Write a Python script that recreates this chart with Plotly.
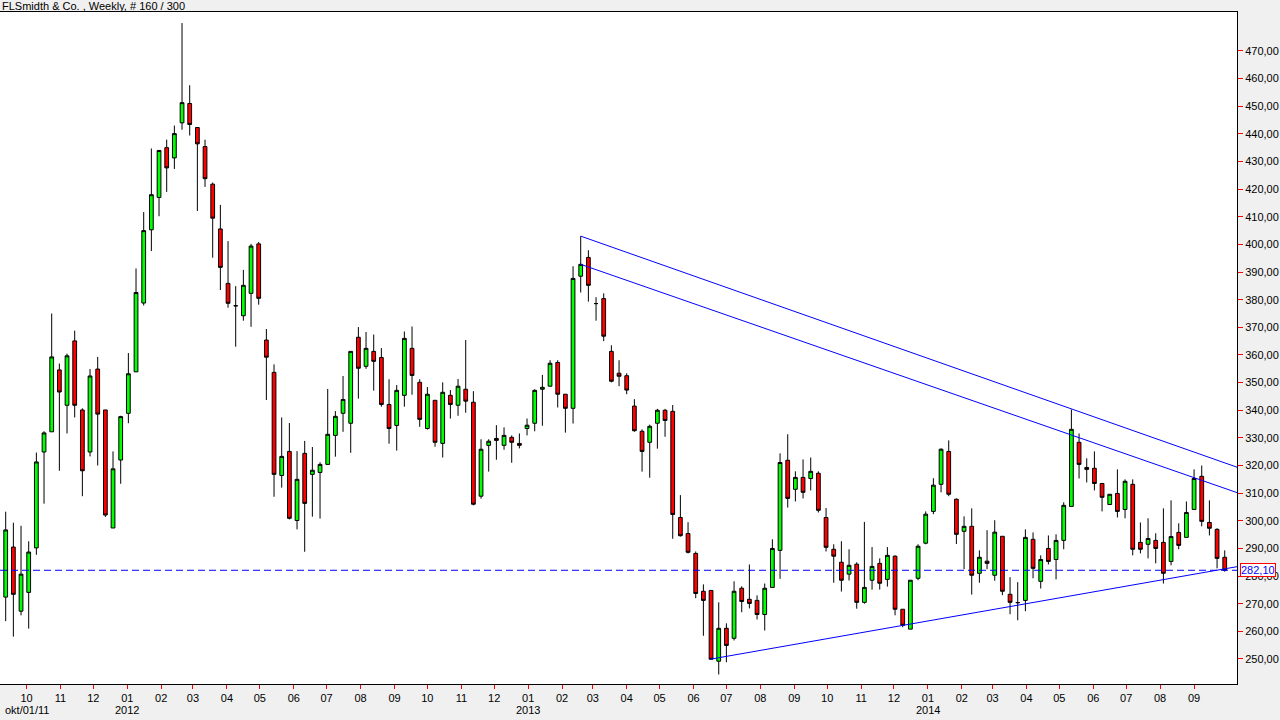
import pandas as pd
import plotly.graph_objects as go

# ---------------- data ----------------
first_week = "2011-09-12"
n_weeks = 160

open_ = [272.4, 290.5, 267.3, 274.1, 290.2, 324.9, 332.2, 354.6, 341.8, 365.1,
         340.1, 324.9, 354.9, 340.1, 297.4, 322.0, 338.9, 353.9, 378.8, 405.3,
         417.0, 435.0, 431.3, 444.0, 451.0, 442.3, 435.4, 421.8, 405.6, 385.9,
         377.8, 374.2, 382.3, 400.2, 365.4, 353.7, 316.4, 325.1, 300.1, 324.4,
         316.8, 317.5, 320.4, 330.9, 338.9, 335.3, 366.4, 355.9, 361.3, 359.1,
         342.1, 334.5, 345.4, 362.4, 350.1, 333.4, 343.6, 328.0, 345.4, 341.8,
         347.6, 342.9, 308.9, 327.3, 329.8, 327.3, 330.2, 328.0, 333.4, 335.3,
         347.6, 348.7, 357.3, 345.8, 340.7, 388.5, 395.3, 378.6, 380.4, 361.3,
         353.4, 352.5, 341.5, 332.4, 328.4, 335.3, 340.0, 339.6, 301.2, 295.4,
         288.2, 274.5, 274.8, 249.2, 261.1, 257.5, 275.6, 271.6, 271.2, 266.1,
         275.9, 289.3, 321.9, 311.4, 315.7, 315.3, 317.2, 301.2, 289.7, 285.0,
         280.7, 284.3, 270.5, 278.5, 284.6, 278.8, 287.2, 268.0, 260.8, 279.2,
         291.9, 303.4, 313.2, 325.1, 307.8, 296.2, 298.0, 281.0, 285.4, 280.3,
         294.4, 273.4, 270.4, 271.2, 293.3, 278.1, 290.0, 286.0, 292.9, 305.2,
         328.4, 319.3, 319.0, 313.5, 305.9, 309.9, 304.1, 313.2, 292.2, 291.5,
         292.9, 292.2, 285.3, 295.8, 294.0, 304.1, 316.1, 299.4, 296.9, 286.8]

high = [303.3, 299.3, 298.2, 292.6, 324.7, 332.4, 375.0, 356.9, 360.5, 368.8,
        340.7, 354.9, 359.3, 340.1, 325.1, 338.0, 360.7, 391.3, 411.7, 434.7,
        434.0, 437.9, 443.0, 480.1, 457.6, 442.3, 437.9, 422.4, 414.3, 401.2,
        384.9, 390.8, 400.2, 400.9, 369.4, 356.6, 337.4, 335.4, 325.2, 328.9,
        326.7, 321.2, 347.7, 339.7, 352.4, 361.3, 370.1, 368.3, 367.4, 362.5,
        351.2, 349.1, 368.5, 370.3, 351.2, 348.4, 343.6, 350.1, 347.3, 351.3,
        365.4, 346.9, 329.5, 329.5, 334.6, 333.8, 330.9, 331.6, 337.0, 347.6,
        352.8, 358.1, 358.1, 345.8, 392.1, 403.0, 397.9, 380.9, 382.3, 363.5,
        358.1, 353.4, 344.0, 333.1, 334.8, 340.5, 340.5, 341.9, 309.3, 299.5,
        288.9, 277.0, 274.8, 270.5, 262.9, 278.1, 276.3, 284.2, 273.0, 277.3,
        293.3, 324.4, 331.3, 317.9, 322.2, 322.9, 317.9, 304.6, 291.5, 292.6,
        289.7, 285.0, 299.6, 290.5, 286.4, 290.5, 287.5, 268.0, 278.5, 291.5,
        303.4, 315.4, 326.2, 329.1, 308.1, 301.6, 304.5, 289.3, 296.6, 300.2,
        294.4, 279.6, 277.8, 296.9, 295.8, 287.5, 294.7, 295.1, 306.7, 340.3,
        331.6, 322.6, 325.1, 313.5, 309.6, 318.6, 315.0, 315.0, 299.4, 300.9,
        295.5, 304.5, 307.4, 299.1, 307.0, 318.6, 320.0, 307.4, 297.3, 289.3]

low = [263.7, 258.1, 265.8, 261.0, 287.7, 306.2, 332.2, 318.1, 331.6, 337.4,
       308.9, 323.3, 320.0, 301.4, 297.4, 313.4, 335.3, 353.9, 377.9, 397.6,
       410.2, 419.0, 427.3, 441.5, 439.4, 412.1, 420.8, 395.2, 383.5, 377.1,
       363.0, 372.4, 370.2, 378.2, 343.7, 308.7, 312.0, 300.5, 296.9, 288.8,
       301.5, 300.8, 320.4, 323.2, 332.2, 324.6, 344.2, 355.0, 347.1, 341.3,
       327.9, 325.4, 341.3, 345.6, 334.0, 333.0, 326.8, 322.9, 337.0, 338.0,
       339.1, 305.6, 308.0, 317.8, 322.1, 325.7, 321.0, 326.2, 330.9, 332.4,
       334.4, 348.7, 341.0, 331.9, 335.2, 382.6, 379.3, 372.4, 365.0, 350.1,
       348.7, 345.8, 332.2, 317.8, 315.6, 326.1, 330.4, 293.5, 294.3, 288.2,
       272.0, 258.4, 249.9, 244.4, 248.8, 256.7, 266.9, 268.3, 264.3, 260.3,
       275.9, 279.0, 304.8, 307.0, 308.1, 311.0, 303.0, 288.9, 277.6, 274.4,
       278.4, 268.2, 270.0, 275.1, 275.1, 276.2, 265.8, 261.5, 260.8, 278.5,
       291.5, 302.4, 310.3, 308.9, 291.6, 282.5, 273.3, 277.6, 282.5, 278.3,
       273.1, 266.2, 264.0, 267.3, 279.2, 275.5, 284.2, 278.8, 289.7, 305.2,
       315.3, 313.9, 311.0, 303.4, 305.9, 301.2, 300.9, 287.5, 288.2, 286.4,
       284.6, 277.3, 283.9, 289.7, 294.0, 304.1, 298.0, 294.7, 282.8, 281.6]

close = [296.7, 273.4, 280.7, 288.7, 321.3, 331.8, 359.3, 346.6, 359.7, 341.8,
         318.1, 352.4, 338.6, 302.1, 318.8, 337.7, 353.2, 382.6, 405.0, 418.0,
         434.0, 427.7, 440.1, 451.3, 443.4, 436.4, 423.8, 409.5, 391.7, 378.7,
         377.8, 385.2, 399.4, 380.5, 359.2, 316.8, 323.3, 300.9, 315.0, 306.3,
         318.3, 320.4, 331.3, 337.8, 343.9, 361.3, 355.2, 362.4, 357.7, 342.1,
         333.4, 347.2, 366.0, 352.6, 336.7, 345.8, 328.4, 346.5, 342.1, 348.7,
         343.3, 306.0, 325.9, 328.8, 329.1, 330.9, 328.4, 327.3, 334.6, 347.2,
         348.3, 357.0, 345.8, 340.7, 387.7, 392.8, 385.2, 378.6, 366.8, 350.5,
         352.3, 347.3, 332.6, 325.1, 334.2, 340.0, 336.3, 302.3, 294.6, 288.6,
         273.7, 271.2, 249.9, 261.1, 254.9, 274.5, 270.8, 270.1, 266.1, 275.6,
         290.0, 321.1, 308.1, 315.7, 310.3, 317.9, 303.8, 290.4, 287.2, 278.5,
         283.9, 270.5, 275.9, 283.5, 277.4, 287.5, 268.0, 262.2, 278.5, 290.8,
         302.4, 312.9, 325.9, 309.6, 295.1, 298.0, 280.3, 286.8, 284.6, 295.9,
         274.5, 270.5, 270.4, 294.0, 282.8, 286.0, 285.3, 292.9, 305.6, 333.1,
         320.4, 318.6, 313.5, 308.5, 309.6, 303.4, 314.3, 289.7, 289.7, 293.6,
         290.0, 281.0, 294.3, 291.1, 303.0, 315.3, 299.8, 297.3, 286.4, 282.1]

last_price = 282.10
last_price_label = "282,10"

# trend lines: (start date, start value, end value at right edge)
trend_start_dates = ["2013-02-18", "2013-02-18", "2013-06-16"]
trend_start_values = [403.0, 392.8, 249.9]
trend_end_values = [319.4, 310.2, 283.4]

y_tick_values = list(range(250, 471, 10))
y_tick_labels = [f"{v},00" for v in y_tick_values]

month_tick_first = "2011-10-01"
month_tick_last = "2014-09-01"

year_label_dates = ["2011-10-01", "2012-01-01", "2013-01-01", "2014-01-01"]
year_labels = ["okt/01/11", "2012", "2013", "2014"]

title_text = "FLSmidth & Co. , Weekly, # 160 / 300"

# ---------------- figure ----------------
dates = pd.date_range(first_week, periods=n_weeks, freq="7D")
x_start = pd.Timestamp(first_week) - pd.Timedelta(days=5.2)
x_end = x_start + pd.Timedelta(days=1129.4)

month_ticks = pd.date_range(month_tick_first, month_tick_last, freq="MS")
month_tick_text = [d.strftime("%m") for d in month_ticks]

font_family = "Liberation Sans, Arial, sans-serif"

fig = go.Figure()
fig.add_trace(go.Candlestick(
    x=dates, open=open_, high=high, low=low, close=close,
    increasing=dict(line=dict(color="black", width=1), fillcolor="#00ff00"),
    decreasing=dict(line=dict(color="black", width=1), fillcolor="#ff0000"),
    whiskerwidth=0, showlegend=False, hoverinfo="skip",
))

shapes = []
# horizontal dashed last-price line
shapes.append(dict(type="line", xref="paper", x0=0, x1=1, yref="y",
                   y0=last_price, y1=last_price,
                   line=dict(color="#0000ff", width=1, dash="7px,4px")))
for d0, v0, v1 in zip(trend_start_dates, trend_start_values, trend_end_values):
    shapes.append(dict(type="line", xref="x", yref="y",
                       x0=d0, y0=v0, x1=x_end, y1=v1,
                       line=dict(color="#0000ff", width=1)))

annotations = [
    dict(text=title_text, xref="paper", yref="paper", x=0, y=1,
         xanchor="left", yanchor="middle", yshift=6, xshift=0, showarrow=False,
         font=dict(family=font_family, size=11, color="black")),
    dict(text=last_price_label, xref="paper", yref="y", x=1, y=last_price,
         xanchor="left", yanchor="middle", xshift=3, showarrow=False,
         bgcolor="white", bordercolor="red", borderwidth=1, borderpad=0,
         font=dict(family=font_family, size=11, color="#0000ff")),
]
for d, t in zip(year_label_dates, year_labels):
    annotations.append(dict(text=t, xref="x", yref="paper", x=d, y=0,
                            xanchor="center", yanchor="middle", yshift=-26,
                            showarrow=False,
                            font=dict(family=font_family, size=11, color="black")))

fig.update_layout(
    width=1280, height=720,
    margin=dict(l=0, r=43, t=12, b=36, pad=0),
    paper_bgcolor="#f0f0f0", plot_bgcolor="white",
    font=dict(family=font_family, size=11, color="black"),
    shapes=shapes, annotations=annotations,
    showlegend=False,
    xaxis=dict(type="date", range=[x_start, x_end],
               rangeslider=dict(visible=False),
               tickvals=month_ticks, ticktext=month_tick_text,
               ticks="outside", ticklen=4, tickcolor="red", tickwidth=1,
               showline=True, linecolor="black", linewidth=1, mirror=True,
               showgrid=False, zeroline=False,
               tickfont=dict(family=font_family, size=11, color="black")),
    yaxis=dict(range=[240.95, 484.1], side="right",
               tickvals=y_tick_values, ticktext=y_tick_labels,
               ticks="outside", ticklen=5, tickcolor="red", tickwidth=1,
               showline=True, linecolor="black", linewidth=1, mirror=True,
               showgrid=False, zeroline=False,
               tickfont=dict(family=font_family, size=11, color="black")),
)

fig.write_html("out.html")
